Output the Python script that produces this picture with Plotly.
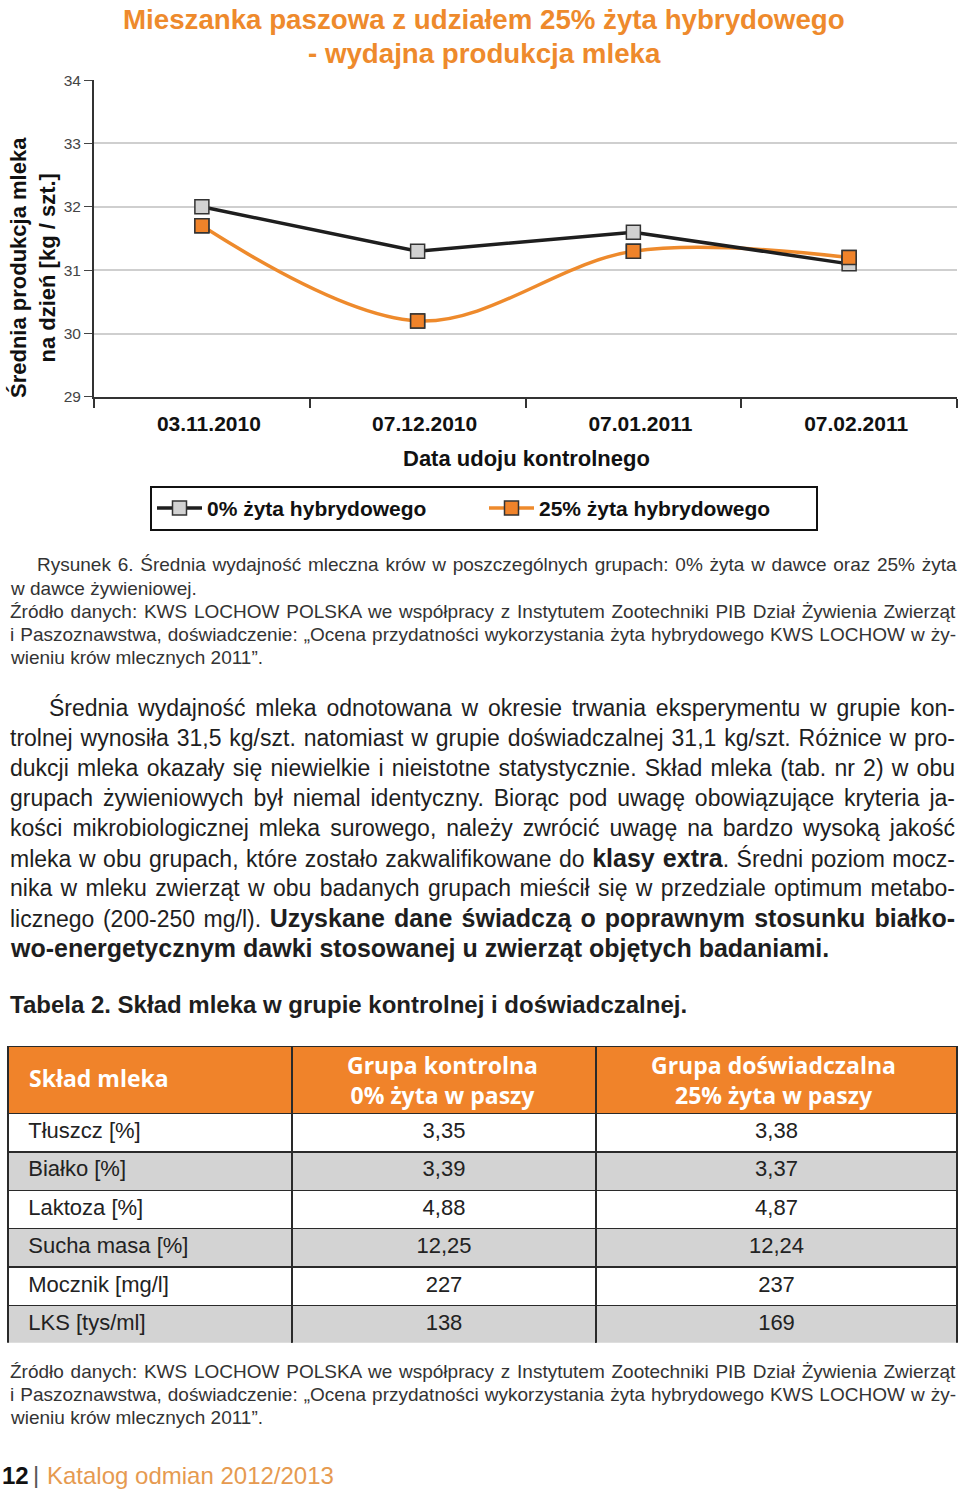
import json
import plotly.graph_objects as go

W, H = 960, 1497

# ---------------- data ----------------
dates = ["03.11.2010", "07.12.2010", "07.01.2011", "07.02.2011"]
rye0 = [32.0, 31.3, 31.6, 31.1]
rye25 = [31.7, 30.2, 31.3, 31.2]
y_ticks = [29, 30, 31, 32, 33, 34]

table_rows = ["Tłuszcz [%]", "Białko [%]", "Laktoza [%]", "Sucha masa [%]",
              "Mocznik [mg/l]", "LKS [tys/ml]"]
table_control = ["3,35", "3,39", "4,88", "12,25", "227", "138"]
table_exp = ["3,38", "3,37", "4,87", "12,24", "237", "169"]
table_header = ["Skład mleka", "Grupa kontrolna<br>0% żyta w paszy",
                "Grupa doświadczalna<br>25% żyta w paszy"]

ORANGE = "#F0832A"
ORANGE_T = "#EE8A2C"
GRAY_FILL = "#D2D2D2"
SANS = "Liberation Sans, Arial, sans-serif"
NARROW = "Liberation Sans Narrow, Arial Narrow, Liberation Sans, sans-serif"
HEAD = "Open Sans, Liberation Sans, sans-serif"

# the photographed page is squeezed slightly in height; compensate
VS, VOFF = 0.989, 8.9


def X(px):
    return px / W


def Y(py):
    return 1 - ((py - VOFF) / VS) / H


fig = go.Figure()

fig.add_trace(go.Scatter(
    x=dates, y=rye25, name="25% żyta hybrydowego", mode="lines+markers",
    line=dict(color=ORANGE_T, width=3.5, shape="spline", smoothing=1.0),
    marker=dict(symbol="square", size=14, color=ORANGE,
                line=dict(color="#333333", width=1.5)),
    legendrank=2,
))
fig.add_trace(go.Scatter(
    x=dates, y=rye0, name="0% żyta hybrydowego", mode="lines+markers",
    line=dict(color="#1E1E1E", width=3.5),
    marker=dict(symbol="square", size=14, color=GRAY_FILL,
                line=dict(color="#333333", width=1.5)),
    legendrank=1,
))
fig.add_trace(go.Scatter(
    x=dates, y=rye25, mode="markers", showlegend=False,
    marker=dict(symbol="square", size=14, color=ORANGE,
                line=dict(color="#333333", width=1.5)),
))

# table (header text is drawn as annotations for vertical centring)
row_fill = ["white" if i % 2 == 0 else "#D3D3D3" for i in range(len(table_rows))]
fig.add_trace(go.Table(
    domain=dict(x=[X(8), X(957)], y=[Y(1344), Y(1047)]),
    columnwidth=[284, 304, 361],
    header=dict(
        values=["", "", ""], fill_color=ORANGE,
        height=66 / VS, line=dict(color="#2a2a2a", width=1.5),
    ),
    cells=dict(
        values=[["\u00a0\u00a0" + r for r in table_rows], table_control, table_exp],
        fill_color=[row_fill, row_fill, row_fill],
        align=["left", "center", "center"],
        font=dict(family=SANS, size=22, color="#222222"),
        height=38 / VS, line=dict(color="#2a2a2a", width=1.5),
    ),
))

fig.update_layout(
    width=W, height=H, margin=dict(l=0, r=0, t=0, b=0),
    paper_bgcolor="white", plot_bgcolor="white",
    xaxis=dict(
        domain=[X(94), X(957)], type="category", range=[-0.5, 3.5],
        showgrid=False, showline=True, linecolor="#333333", linewidth=2,
        ticks="outside", tickson="boundaries", ticklen=9, tickcolor="#333333",
        tickwidth=1.5, ticklabelstandoff=7, ticklabelshift=7,
        tickfont=dict(family=SANS, size=21, color="#111111", weight="bold"),
        fixedrange=True,
    ),
    yaxis=dict(
        domain=[Y(397), Y(80)], range=[29, 34], tickvals=y_ticks,
        showgrid=True, gridcolor="#CFCFCF", gridwidth=1.5,
        showline=True, linecolor="#333333", linewidth=2, zeroline=False,
        ticks="outside", ticklen=8, tickcolor="#444444", tickwidth=1,
        tickfont=dict(family=SANS, size=15.5, color="#444444"),
        fixedrange=True,
    ),
    legend=dict(
        orientation="h", x=X(150), xanchor="left", y=Y(486), yanchor="top",
        bordercolor="#111111", borderwidth=2, bgcolor="white",
        font=dict(family=SANS, size=21, color="#111111", weight="bold"),
        itemwidth=45, entrywidth=272, traceorder="normal",
    ),
    showlegend=True,
)

ann = []
justify = []   # [annotation index, right edge in px]


def text(px, py, s, size, color="#222222", family=SANS, xanchor="left", bold=False, right=None):
    if right is not None:
        justify.append([len(ann), right])
    ann.append(dict(
        x=X(px), y=Y(py), xref="paper", yref="paper", text=s, showarrow=False,
        xanchor=xanchor, yanchor="middle", align="center" if xanchor == "center" else "left",
        font=dict(family=family, size=size, color=color, weight="bold" if bold else "normal")))


# title
text(484, 19, "Mieszanka paszowa z udziałem 25% żyta hybrydowego", 27.7, ORANGE_T, xanchor="center", bold=True)
text(484, 53, "- wydajna produkcja mleka", 27.7, ORANGE_T, xanchor="center", bold=True)
# y axis title
ann.append(dict(x=X(33), y=Y(268), xref="paper", yref="paper", showarrow=False,
                text="Średnia produkcja mleka<br>na dzień [kg / szt.]", textangle=-90,
                xanchor="center", yanchor="middle",
                font=dict(family=SANS, size=22, color="#111111", weight="bold")))
# x axis title
text(526, 459, "Data udoju kontrolnego", 22, "#111111", xanchor="center", bold=True)

# caption
cap = [
    (35, 565, "Rysunek 6. Średnia wydajność mleczna krów w poszczególnych grupach: 0% żyta w dawce oraz 25% żyta", 957),
    (8, 589, "w dawce żywieniowej.", None),
    (8, 612, "Źródło danych: KWS LOCHOW POLSKA we współpracy z Instytutem Zootechniki PIB Dział Żywienia Zwierząt", 956),
    (8, 635, "i Paszoznawstwa, doświadczenie: „Ocena przydatności wykorzystania żyta hybrydowego KWS LOCHOW w ży-", 956),
    (8, 658, "wieniu krów mlecznych 2011”.", None),
]
for px, py, s, r in cap:
    text(px, py, s, 19, "#333333", right=r)


def B(s):
    return "<span style='font-size:25px'><b>" + s + "</b></span>"


body = [
    (47, "Średnia wydajność mleka odnotowana w okresie trwania eksperymentu w grupie kon-", 955),
    (8, "trolnej wynosiła 31,5 kg/szt. natomiast w grupie doświadczalnej 31,1 kg/szt. Różnice w pro-", 955),
    (8, "dukcji mleka okazały się niewielkie i nieistotne statystycznie. Skład mleka (tab. nr 2) w obu", 955),
    (8, "grupach żywieniowych był niemal identyczny. Biorąc pod uwagę obowiązujące kryteria ja-", 955),
    (8, "kości mikrobiologicznej mleka surowego, należy zwrócić uwagę na bardzo wysoką jakość", 955),
    (8, "mleka w obu grupach, które zostało zakwalifikowane do " + B("klasy extra") + ". Średni poziom mocz-", 955),
    (8, "nika w mleku zwierząt w obu badanych grupach mieścił się w przedziale optimum metabo-", 955),
    (8, "licznego (200-250 mg/l). " + B("Uzyskane dane świadczą o poprawnym stosunku białko-"), 955),
    (8, B("wo-energetycznym dawki stosowanej u zwierząt objętych badaniami."), None),
]
for i, (px, s, r) in enumerate(body):
    text(px, 708 + 30 * i, s, 23, "#1E1E1E", right=r)

text(8, 1005, "Tabela 2. Skład mleka w grupie kontrolnej i doświadczalnej.", 24, "#1E1E1E", bold=True)

# table header labels
text(27, 1078, table_header[0], 23, "white", family=HEAD, bold=True)
text(442, 1080, table_header[1], 23, "white", family=HEAD, xanchor="center", bold=True)
text(773, 1080, table_header[2], 23, "white", family=HEAD, xanchor="center", bold=True)

foot = [
    (1372, "Źródło danych: KWS LOCHOW POLSKA we współpracy z Instytutem Zootechniki PIB Dział Żywienia Zwierząt", 956),
    (1395, "i Paszoznawstwa, doświadczenie: „Ocena przydatności wykorzystania żyta hybrydowego KWS LOCHOW w ży-", 956),
    (1418, "wieniu krów mlecznych 2011”.", None),
]
for py, s, r in foot:
    text(8, py, s, 19, "#333333", family=NARROW, right=r)

text(0, 1476, "12", 24, "#111111", bold=True)
text(31, 1475, "|", 24, "#555555")
text(45, 1476, "Katalog odmian 2012/2013", 24, "#E69A50")

fig.update_layout(annotations=ann)

post = (
    "var h=document.documentElement, b=document.body;"
    "h.style.margin='0'; h.style.padding='0'; b.style.margin='0'; b.style.padding='0';"
    "h.style.overflow='hidden'; b.style.overflow='hidden';"
    "h.style.height='1497px'; b.style.height='1497px';"
    "var d=document.querySelector('.plotly-graph-div');"
    "if(d){d.style.position='absolute'; d.style.top='0px'; d.style.left='0px';}"
    "try{var J=" + json.dumps(justify) + ";"
    "J.forEach(function(p){"
    " var t=d.querySelector('.annotation[data-index=\"'+p[0]+'\"] .annotation-text');"
    " if(!t) return;"
    " var r=t.getBoundingClientRect(); var n=(t.textContent.match(/ /g)||[]).length;"
    " if(n>0){var ws=(p[1]-r.right)/n; if(ws>0 && ws<12){t.style.wordSpacing=ws+'px';}}"
    "});}catch(e){}"
)
fig.write_html("out.html", config={"displayModeBar": False}, post_script=post)
